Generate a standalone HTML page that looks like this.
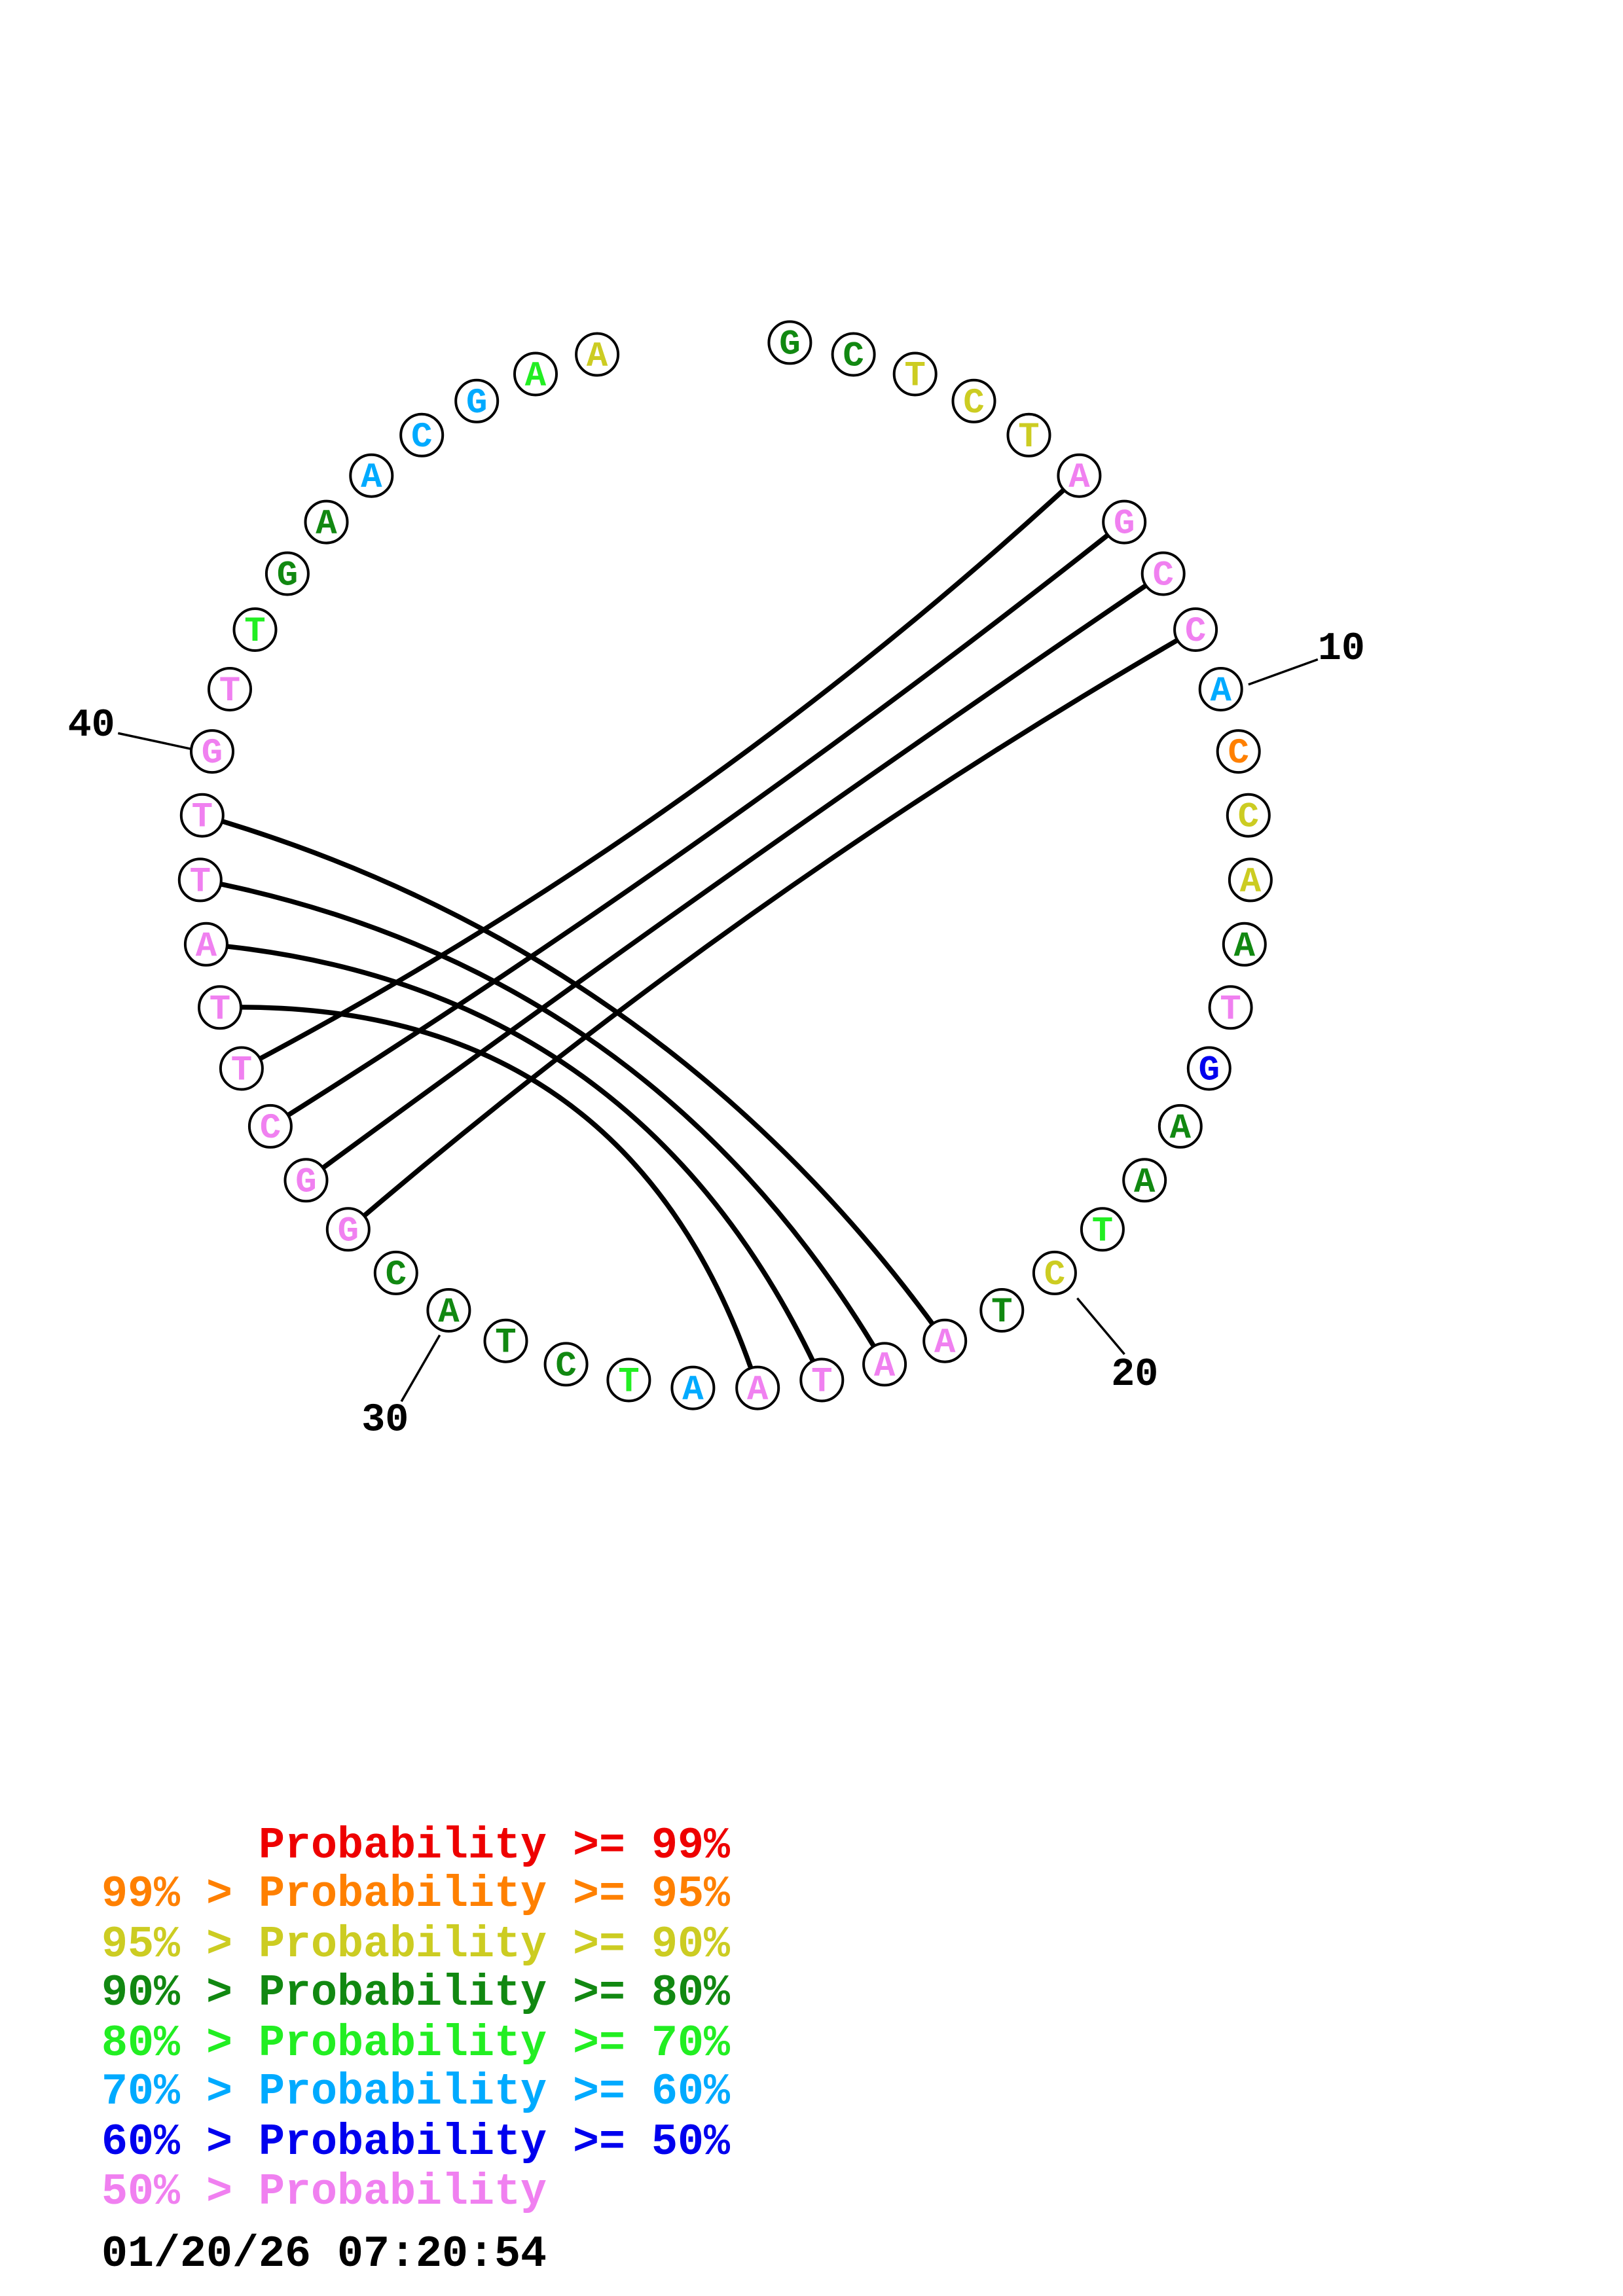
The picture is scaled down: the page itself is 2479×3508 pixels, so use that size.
<!DOCTYPE html>
<html><head><meta charset="utf-8"><style>
html,body{margin:0;padding:0;background:#fff;}
body{width:2479px;height:3508px;overflow:hidden;position:relative;}
svg{position:absolute;left:0;top:0;}
.lg{font-family:"Liberation Mono",monospace;font-weight:bold;font-size:68px;white-space:pre;}
</style></head><body>
<svg id="s" width="2479" height="3508" xmlns="http://www.w3.org/2000/svg"></svg>
<script>
const S=2.254;
const O={x:491.5*S,y:585.5*S},R=356*S,step=360/51;
const seq="GCTCTAGCCACCAATGAATCTAATAATCTACGGCTTATTGTTGAACGAA";
const K={g:"#118811",y:"#cccc22",p:"#f080f0",b:"#00aaff",o:"#ff8000",B:"#0000ee",G:"#22ee22"};
const cols="ggyyyppppb"+"oyygpBggGy"+"gppppbGggg"+"gppppppppp"+"pGggbbbGy";
const col=i=>K[cols[i-1]];
function pos(i){const a=(-90+step*i)*Math.PI/180;return {x:O.x+R*Math.cos(a),y:O.y+R*Math.sin(a),a:a};}
let h="";
const pairs=[[6,35],[7,34],[8,33],[9,32],[39,22],[38,23],[37,24],[36,25]];
const k=0.6;
for(const [i,j] of pairs){
  const p=pos(i),q=pos(j);
  const mx=(p.x+q.x)/2,my=(p.y+q.y)/2;
  const cx=mx+k*(O.x-mx),cy=my+k*(O.y-my);
  h+=`<path d="M${p.x.toFixed(1)},${p.y.toFixed(1)} Q${cx.toFixed(1)},${cy.toFixed(1)} ${q.x.toFixed(1)},${q.y.toFixed(1)}" fill="none" stroke="#000" stroke-width="7.5"/>`;
}
const lines=[[846,464,893,447],[730,880,762,918],[298,905,272,950],[131,508,80,497]];
for(const l of lines)h+=`<line x1="${l[0]*S}" y1="${l[1]*S}" x2="${l[2]*S}" y2="${l[3]*S}" stroke="#000" stroke-width="3.5"/>`;
const labs=[["10",893,452],["20",753,944],["30",245,975],["40",46,504]];
for(const l of labs)h+=`<text x="${l[1]*S}" y="${l[2]*S-12}" font-family="Liberation Mono, monospace" font-weight="bold" font-size="60">${l[0]}</text>`;
for(let i=1;i<=49;i++){
  const p=pos(i);
  h+=`<circle cx="${p.x.toFixed(1)}" cy="${p.y.toFixed(1)}" r="32" fill="#fff" stroke="#000" stroke-width="4"/>`;
  h+=`<text x="${p.x.toFixed(1)}" y="${(p.y+17).toFixed(1)}" text-anchor="middle" font-family="Liberation Mono, monospace" font-weight="bold" font-size="54" fill="${col(i)}">${seq[i-1]}</text>`;
}
const L=[["          Probability >= 99%","#ee0000",2856],["99% > Probability >= 95%","#ff8000",2930],["95% > Probability >= 90%","#cccc22",3007],["90% > Probability >= 80%","#118811",3081],["80% > Probability >= 70%","#22ee22",3158],["70% > Probability >= 60%","#00aaff",3232],["60% > Probability >= 50%","#0000ee",3309],["50% > Probability","#f080f0",3385],["01/20/26 07:20:54","#000",3480]];
for(const l of L){let t=l[0];let x=155;if(t.startsWith(" ")){t=t.trim();x=155+6*40;}
 h+=`<text class="lg" x="${x}" y="${l[2]-18}" fill="${l[1]}" textLength="${t.length*40}" lengthAdjust="spacingAndGlyphs">${t.replace(/>/g,"&gt;")}</text>`;}
document.getElementById("s").innerHTML=h;
</script>
</body></html>
